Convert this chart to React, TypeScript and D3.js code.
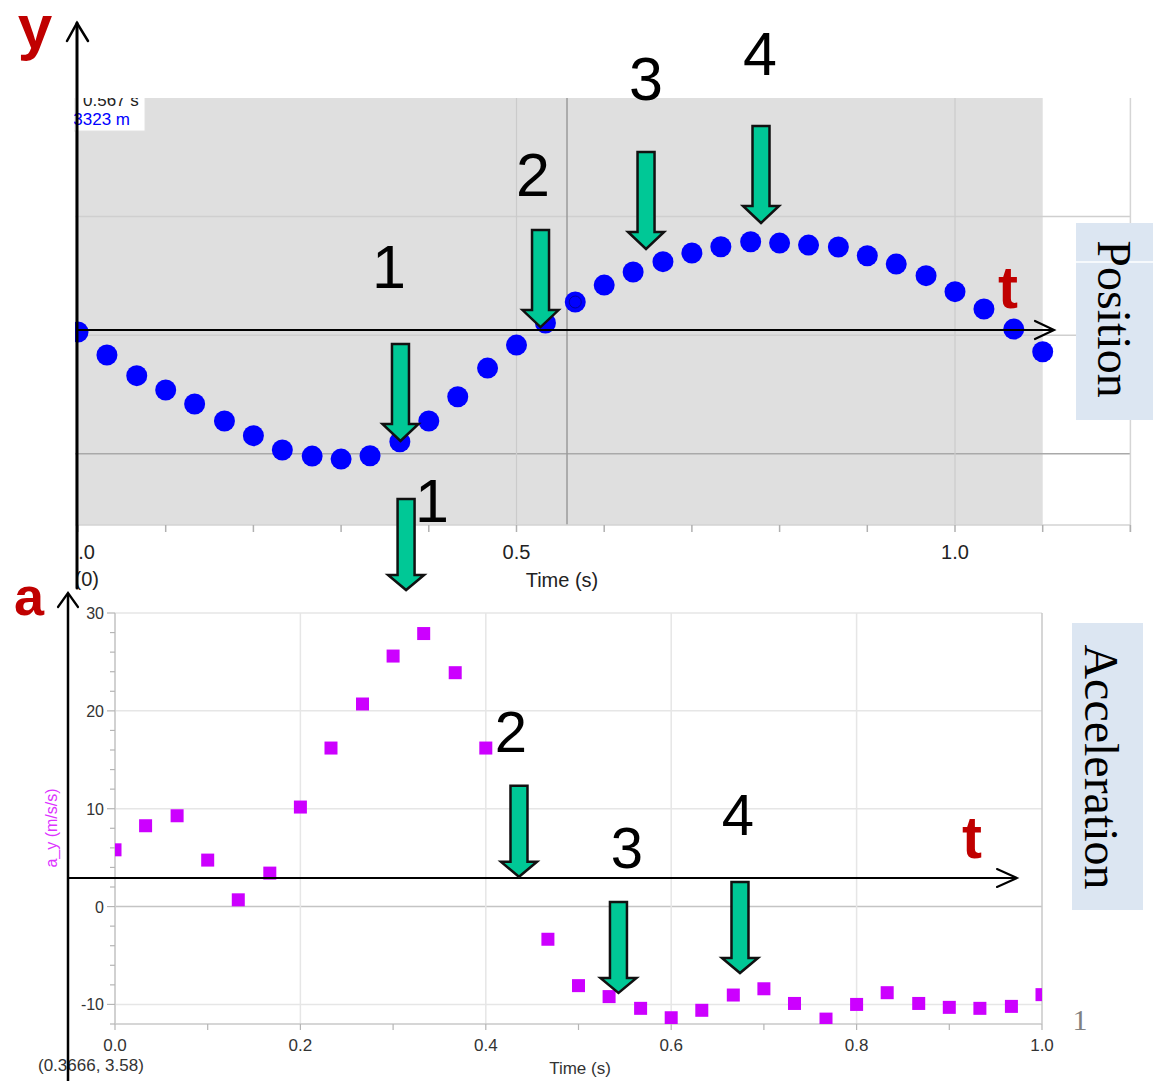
import React from 'react';
import * as d3 from 'd3';

// ---------- Position (top) data ----------
const posTimes = [0, 0.033, 0.067, 0.1, 0.133, 0.167, 0.2, 0.233, 0.267, 0.3, 0.333, 0.367, 0.4, 0.433, 0.467, 0.5, 0.533, 0.567, 0.6, 0.633, 0.667, 0.7, 0.733, 0.767, 0.8, 0.833, 0.867, 0.9, 0.933, 0.967, 1.0, 1.033, 1.067, 1.1];
const posValues = [0.0027, -0.0167, -0.0341, -0.0462, -0.058, -0.0723, -0.0847, -0.0968, -0.1019, -0.1044, -0.1016, -0.0898, -0.0723, -0.0519, -0.0277, -0.0083, 0.0103, 0.028, 0.0423, 0.0533, 0.062, 0.0693, 0.0746, 0.0788, 0.0777, 0.076, 0.0744, 0.067, 0.06, 0.0502, 0.0367, 0.0221, 0.0052, -0.0139];
const posXTicks = [0, 0.1, 0.2, 0.3, 0.4, 0.5, 0.6, 0.7, 0.8, 0.9, 1.0, 1.1, 1.2];
const posXLabels = [0, 0.5, 1.0];
const posGridY = [0.1, 0, -0.1];
const posGridX = [0.5, 1.0];
const posCursorT = 0.5576;
const posSelectedIndex = 17;

// ---------- Acceleration (bottom) data ----------
const accTimes = [0, 0.033, 0.067, 0.1, 0.133, 0.167, 0.2, 0.233, 0.267, 0.3, 0.333, 0.367, 0.4, 0.433, 0.467, 0.5, 0.533, 0.567, 0.6, 0.633, 0.667, 0.7, 0.733, 0.767, 0.8, 0.833, 0.867, 0.9, 0.933, 0.967, 1.0];
const accValues = [5.8, 8.26, 9.28, 4.75, 0.69, 3.42, 10.17, 16.2, 20.7, 25.6, 27.9, 23.9, 16.2, 8, -3.34, -8.08, -9.2, -10.4, -11.36, -10.6, -9.04, -8.4, -9.9, -11.5, -10.0, -8.8, -9.9, -10.3, -10.4, -10.2, -9.0];
const accYTicks = [30, 20, 10, 0, -10];
const accYMinor = [-12, -10, -8, -6, -4, -2, 0, 2, 4, 6, 8, 10, 12, 14, 16, 18, 20, 22, 24, 26, 28, 30];
const accXTicks = [0, 0.2, 0.4, 0.6, 0.8, 1.0];
const accXMinor = [0.1, 0.3, 0.5, 0.7, 0.9];

// ---------- annotation arrows (data coordinates of the tip) ----------
const topArrowTimes = [0.3677, 0.5274, 0.6477, 0.7788];
const topArrowTips = [-0.0892, 0.0069, 0.0727, 0.0946];
const botArrowTimes = [0.314, 0.4358, 0.5431, 0.6742];
const botArrowTips = [32.35, 3.04, -8.83, -6.79];

const topNumbers = [
  { s: '1', x: 389, y: 288 },
  { s: '2', x: 533, y: 196 },
  { s: '3', x: 646, y: 100 },
  { s: '4', x: 760, y: 75 },
  { s: '1', x: 432, y: 522 },
];
const botNumbers = [
  { s: '2', x: 511, y: 752 },
  { s: '3', x: 627, y: 868 },
  { s: '4', x: 738, y: 835 },
];

const RED = '#c00000';
const GREEN = '#00c896';

function arrowPath(tx: number, ty: number, len: number, head: number) {
  const top = ty - len;
  const base = ty - head;
  const sw = 8.5;
  const hw = 18;
  return `M${tx - sw},${top}L${tx + sw},${top}L${tx + sw},${base}L${tx + hw},${base}L${tx},${ty}L${tx - hw},${base}L${tx - sw},${base}Z`;
}

export default function App() {
  const W = 1155;
  const H = 1081;
  const xTop = d3.scaleLinear().domain([0, 1.2]).range([78, 1130.4]);
  const yTop = d3.scaleLinear().domain([-0.16, 0.2]).range([525, 98]);
  const xBot = d3.scaleLinear().domain([0, 1]).range([115, 1042]);
  const yBot = d3.scaleLinear().domain([-12, 30]).range([1024, 613]);

  const sans = "Arial, 'Liberation Sans', sans-serif";
  const serif = "'Times New Roman', 'Liberation Serif', serif";

  return (
    <svg width={W} height={H} style={{ position: 'absolute', left: 0, top: 0, background: '#fff' }} fontFamily={sans}>
      <defs>
        <clipPath id="leftClip"><rect x={76} y={0} width={1100} height={H} /></clipPath>
        <clipPath id="readoutClip"><rect x={74} y={98} width={72} height={34} /></clipPath>
        <clipPath id="accClip"><rect x={xBot(0)} y={yBot(30)} width={xBot(1) - xBot(0)} height={yBot(-12) - yBot(30)} /></clipPath>
        <clipPath id="posClip"><rect x={75} y={98} width={xTop(1.2) - 75} height={427} /></clipPath>
      </defs>

      {/* ===== Position chart ===== */}
      <rect x={75} y={yTop(0.2)} width={xTop(1.1) - 75} height={yTop(-0.16) - yTop(0.2)} fill="#dfdfdf" />
      {posGridY.map((v, i) => (
        <line key={'pgy' + i} x1={75} x2={xTop(1.2)} y1={yTop(v)} y2={yTop(v)}
          stroke={v === -0.1 ? '#a9a9a9' : '#cfcfcf'} strokeWidth={1.5} />
      ))}
      {posGridX.map((t, i) => (
        <line key={'pgx' + i} x1={xTop(t)} x2={xTop(t)} y1={yTop(0.2)} y2={yTop(-0.16)} stroke="#cbcbcb" strokeWidth={1.2} />
      ))}
      <line x1={xTop(posCursorT)} x2={xTop(posCursorT)} y1={yTop(0.2)} y2={yTop(-0.16)} stroke="#9a9a9a" strokeWidth={1.5} />
      <line x1={xTop(1.2)} x2={xTop(1.2)} y1={yTop(0.2)} y2={532} stroke="#d5d5d5" strokeWidth={1.5} />
      <line x1={75} x2={xTop(1.2)} y1={yTop(-0.16)} y2={yTop(-0.16)} stroke="#d3d3d3" strokeWidth={1.5} />
      {posXTicks.map((t, i) => (
        <line key={'ptk' + i} x1={xTop(t)} x2={xTop(t)} y1={525} y2={532} stroke="#b0b0b0" strokeWidth={1.5} />
      ))}
      <g clipPath="url(#leftClip)">
        {posXLabels.map((t, i) => (
          <text key={'ptl' + i} x={xTop(t) + (t === 0 ? 3 : 0)} y={559} textAnchor="middle" fontSize={20} fill="#222">{t.toFixed(1)}</text>
        ))}
        <text x={99} y={586} textAnchor="end" fontSize={20} fill="#222">(0)</text>
      </g>
      <text x={562} y={587} textAnchor="middle" fontSize={20} fill="#222">Time (s)</text>

      {/* readout box */}
      <g clipPath="url(#readoutClip)">
        <rect x={74} y={92} width={71} height={39} fill="#fff" stroke="#e2e2e2" />
        <text x={83} y={106} fontSize={17} fill="#222">0.567 s</text>
        <text x={130} y={125} textAnchor="end" fontSize={17} fill="#0000ff">0.3323 m</text>
      </g>

      {/* dots */}
      <g clipPath="url(#posClip)">
        {posTimes.map((t, i) => (
          <circle key={'pd' + i} cx={xTop(t)} cy={yTop(posValues[i])} r={10.5} fill="#0000ff" />
        ))}
      </g>
      <circle cx={xTop(posTimes[posSelectedIndex])} cy={yTop(posValues[posSelectedIndex])} r={6} fill="none" stroke="#0000a0" strokeWidth={1} />

      {/* ===== Acceleration chart ===== */}
      {accYTicks.map((v, i) => (
        <line key={'agy' + i} x1={xBot(0)} x2={xBot(1)} y1={yBot(v)} y2={yBot(v)}
          stroke={v === 0 ? '#c4c4c4' : '#e6e6e6'} strokeWidth={1.5} />
      ))}
      {accXTicks.map((t, i) => (
        <line key={'agx' + i} x1={xBot(t)} x2={xBot(t)} y1={yBot(30)} y2={yBot(-12)}
          stroke={t === 1 ? '#c8c8c8' : '#e6e6e6'} strokeWidth={1.5} />
      ))}
      <line x1={xBot(0)} x2={xBot(0)} y1={yBot(30)} y2={yBot(-12)} stroke="#c8c8c8" strokeWidth={1.5} />
      <line x1={xBot(0)} x2={xBot(1)} y1={yBot(-12)} y2={yBot(-12)} stroke="#c8c8c8" strokeWidth={1.5} />
      {accYMinor.map((v, i) => (
        <line key={'aym' + i} x1={xBot(0) - (v % 10 === 0 ? 8 : 5)} x2={xBot(0)} y1={yBot(v)} y2={yBot(v)} stroke="#b5b5b5" strokeWidth={1.2} />
      ))}
      {accXTicks.concat(accXMinor).map((t, i) => (
        <line key={'axm' + i} x1={xBot(t)} x2={xBot(t)} y1={yBot(-12)} y2={yBot(-12) + 6} stroke="#b5b5b5" strokeWidth={1.2} />
      ))}
      {accYTicks.map((v, i) => (
        <text key={'ayl' + i} x={104} y={yBot(v) + 6} textAnchor="end" fontSize={16} fill="#333">{v}</text>
      ))}
      {accXTicks.map((t, i) => (
        <text key={'axl' + i} x={xBot(t)} y={1051} textAnchor="middle" fontSize={17} fill="#333">{t.toFixed(1)}</text>
      ))}
      <text x={580} y={1074} textAnchor="middle" fontSize={17} fill="#333">Time (s)</text>
      <text x={38} y={1071} fontSize={17} fill="#333">(0.3666, 3.58)</text>
      <text transform="translate(57,828) rotate(-90)" textAnchor="middle" fontSize={16} fill="#dd33ff">a_y (m/s/s)</text>
      <g clipPath="url(#accClip)">
        {accTimes.map((t, i) => (
          <rect key={'as' + i} x={xBot(t) - 6.5} y={yBot(accValues[i]) - 6.5} width={13} height={13} fill="#cc00ff" />
        ))}
      </g>

      {/* ===== hand-drawn axes ===== */}
      <g stroke="#000" fill="none" strokeLinecap="round">
        <line x1={77} y1={23} x2={77} y2={588} strokeWidth={3} />
        <polyline points="67,41 77,23 88,41" strokeWidth={2.5} />
        <line x1={77} y1={330} x2={1053} y2={330} strokeWidth={2.2} />
        <polyline points="1035,321 1054,330 1035,339" strokeWidth={2.2} />
        <line x1={68} y1={594} x2={68} y2={1081} strokeWidth={2.5} />
        <polyline points="58,607 68,593 78,607" strokeWidth={2.2} />
        <line x1={68} y1={878} x2={1016} y2={878} strokeWidth={2} />
        <polyline points="997,869 1017,878 997,887" strokeWidth={2} />
      </g>
      <text x={35} y={48} textAnchor="middle" fontSize={62} fontWeight="bold" fill={RED}>y</text>
      <text x={1008} y={308} textAnchor="middle" fontSize={60} fontWeight="bold" fill={RED}>t</text>
      <text x={29} y={615} textAnchor="middle" fontSize={54} fontWeight="bold" fill={RED}>a</text>
      <text x={972} y={858} textAnchor="middle" fontSize={60} fontWeight="bold" fill={RED}>t</text>

      {/* ===== green arrows ===== */}
      {topArrowTimes.map((t, i) => (
        <path key={'ta' + i} d={arrowPath(xTop(t), yTop(topArrowTips[i]), 97, 17)} fill={GREEN} stroke="#111" strokeWidth={2.5} strokeLinejoin="miter" />
      ))}
      {botArrowTimes.map((t, i) => (
        <path key={'ba' + i} d={arrowPath(xBot(t), yBot(botArrowTips[i]), 91, 15)} fill={GREEN} stroke="#111" strokeWidth={2.5} strokeLinejoin="miter" />
      ))}

      {/* ===== numbers ===== */}
      {topNumbers.map((n, i) => (
        <text key={'tn' + i} x={n.x} y={n.y} textAnchor="middle" fontSize={61} fill="#000">{n.s}</text>
      ))}
      {botNumbers.map((n, i) => (
        <text key={'bn' + i} x={n.x} y={n.y} textAnchor="middle" fontSize={58} fill="#000">{n.s}</text>
      ))}

      {/* ===== side label boxes ===== */}
      <rect x={1076} y={223} width={77} height={197} fill="#dce6f2" />
      <line x1={1076} x2={1153} y1={262} y2={262} stroke="#fff" strokeWidth={1.5} />
      <text transform="translate(1098,319) rotate(90)" textAnchor="middle" fontSize={48} fontFamily={serif} fill="#000">Position</text>
      <rect x={1072} y={623} width={71} height={287} fill="#dce6f2" />
      <text transform="translate(1085,767) rotate(90)" textAnchor="middle" fontSize={48} fontFamily={serif} fill="#000">Acceleration</text>
      <text x={1080} y={1030} textAnchor="middle" fontSize={30} fontFamily={serif} fill="#808080">1</text>
    </svg>
  );
}
